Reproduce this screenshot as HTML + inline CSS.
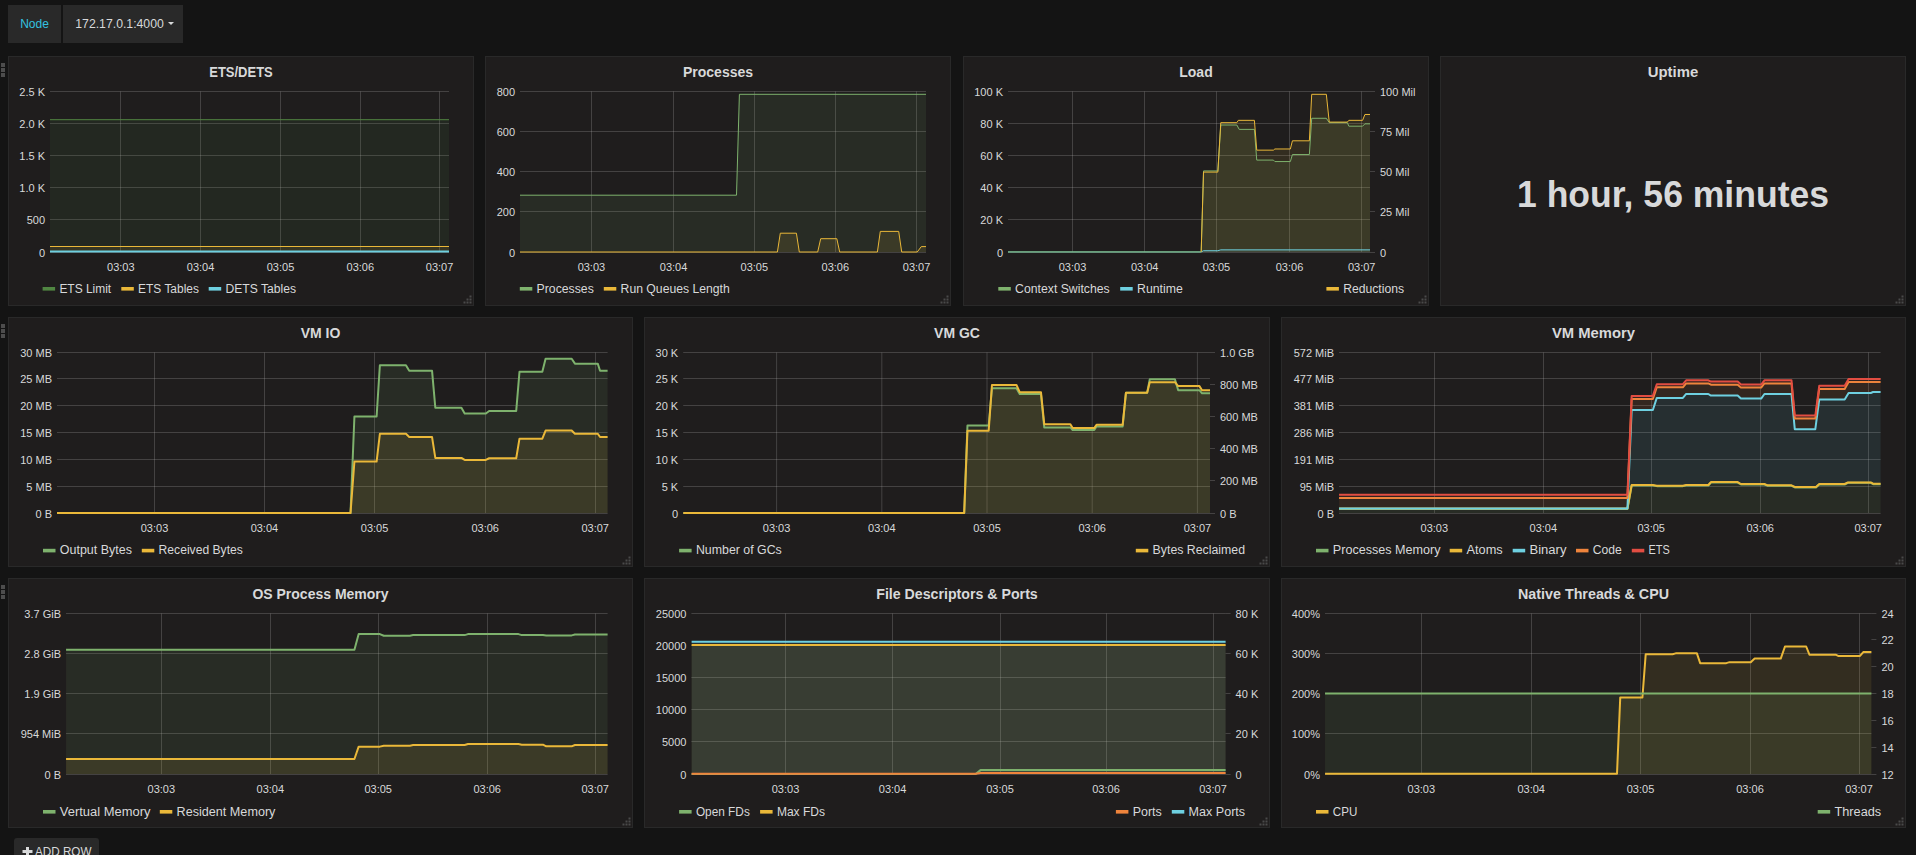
<!DOCTYPE html>
<html><head><meta charset="utf-8"><title>Grafana</title>
<style>
html,body{margin:0;padding:0;background:#141414;width:1916px;height:855px;overflow:hidden;font-family:"Liberation Sans",sans-serif}
</style></head><body>
<svg width="1916" height="855" viewBox="0 0 1916 855" style="position:absolute;left:0;top:0">
<style>
text{font-family:"Liberation Sans",sans-serif;fill:#d8d9da}
.t{font-size:14px;font-weight:bold}
.a{font-size:11px}
.l{font-size:12px}
</style>
<rect x="8" y="5" width="53" height="38" fill="#292929"/>
<text x="34.5" y="28" text-anchor="middle" style="font-size:12px;fill:#33c2e0">Node</text>
<rect x="63" y="5" width="120" height="38" fill="#292929"/>
<text x="75.3" y="28" style="font-size:12px" textLength="88.5" lengthAdjust="spacingAndGlyphs">172.17.0.1:4000</text>
<path d="M168,22 L174,22 L171,25 Z" fill="#d8d9da"/>
<rect x="1" y="63" width="4" height="4" fill="#4d4d4d"/>
<rect x="1" y="68" width="4" height="4" fill="#4d4d4d"/>
<rect x="1" y="73" width="4" height="4" fill="#4d4d4d"/>
<rect x="1" y="324" width="4" height="4" fill="#4d4d4d"/>
<rect x="1" y="329" width="4" height="4" fill="#4d4d4d"/>
<rect x="1" y="334" width="4" height="4" fill="#4d4d4d"/>
<rect x="1" y="585" width="4" height="4" fill="#4d4d4d"/>
<rect x="1" y="590" width="4" height="4" fill="#4d4d4d"/>
<rect x="1" y="595" width="4" height="4" fill="#4d4d4d"/>
<rect x="8.5" y="56.5" width="465" height="249" fill="#1f1d1d" stroke="#292929" stroke-width="1"/>
<rect x="469.5" y="295.5" width="2" height="2" fill="#4a4a4a"/>
<rect x="466.5" y="298.5" width="2" height="2" fill="#4a4a4a"/>
<rect x="469.5" y="298.5" width="2" height="2" fill="#4a4a4a"/>
<rect x="463.5" y="301.5" width="2" height="2" fill="#4a4a4a"/>
<rect x="466.5" y="301.5" width="2" height="2" fill="#4a4a4a"/>
<rect x="469.5" y="301.5" width="2" height="2" fill="#4a4a4a"/>
<text x="241.0" y="77" text-anchor="middle" class="t" textLength="63.5" lengthAdjust="spacingAndGlyphs">ETS/DETS</text>
<line x1="50" y1="91.5" x2="449" y2="91.5" stroke="rgba(200,200,200,0.22)" stroke-width="1"/>
<text x="45" y="95.5" text-anchor="end" class="a">2.5 K</text>
<line x1="50" y1="123.5" x2="449" y2="123.5" stroke="rgba(200,200,200,0.22)" stroke-width="1"/>
<text x="45" y="127.7" text-anchor="end" class="a">2.0 K</text>
<line x1="50" y1="155.5" x2="449" y2="155.5" stroke="rgba(200,200,200,0.22)" stroke-width="1"/>
<text x="45" y="159.9" text-anchor="end" class="a">1.5 K</text>
<line x1="50" y1="187.5" x2="449" y2="187.5" stroke="rgba(200,200,200,0.22)" stroke-width="1"/>
<text x="45" y="192.1" text-anchor="end" class="a">1.0 K</text>
<line x1="50" y1="219.5" x2="449" y2="219.5" stroke="rgba(200,200,200,0.22)" stroke-width="1"/>
<text x="45" y="224.3" text-anchor="end" class="a">500</text>
<line x1="50" y1="252.5" x2="449" y2="252.5" stroke="rgba(200,200,200,0.22)" stroke-width="1"/>
<text x="45" y="256.5" text-anchor="end" class="a">0</text>
<line x1="120.5" y1="91.5" x2="120.5" y2="252" stroke="rgba(200,200,200,0.22)" stroke-width="1"/>
<text x="120.8" y="271" text-anchor="middle" class="a">03:03</text>
<line x1="200.5" y1="91.5" x2="200.5" y2="252" stroke="rgba(200,200,200,0.22)" stroke-width="1"/>
<text x="200.6" y="271" text-anchor="middle" class="a">03:04</text>
<line x1="280.5" y1="91.5" x2="280.5" y2="252" stroke="rgba(200,200,200,0.22)" stroke-width="1"/>
<text x="280.5" y="271" text-anchor="middle" class="a">03:05</text>
<line x1="360.5" y1="91.5" x2="360.5" y2="252" stroke="rgba(200,200,200,0.22)" stroke-width="1"/>
<text x="360.3" y="271" text-anchor="middle" class="a">03:06</text>
<line x1="439.5" y1="91.5" x2="439.5" y2="252" stroke="rgba(200,200,200,0.22)" stroke-width="1"/>
<text x="439.6" y="271" text-anchor="middle" class="a">03:07</text>
<svg x="50" y="88.5" width="399" height="166.5" overflow="hidden"><g transform="translate(-50,-88.5)">
<path d="M50,119.7 L449,119.7 L449,252 L50,252 Z" fill="#508642" fill-opacity="0.1"/>
<path d="M50,246.5 L449,246.5 L449,252 L50,252 Z" fill="#EAB839" fill-opacity="0.1"/>
<path d="M50,251.6 L449,251.6 L449,252 L50,252 Z" fill="#6ED0E0" fill-opacity="0.1"/>
<path d="M50,119.7 L449,119.7" fill="none" stroke="#508642" stroke-width="1" stroke-linejoin="round"/>
<path d="M50,246.5 L449,246.5" fill="none" stroke="#EAB839" stroke-width="1" stroke-linejoin="round"/>
<path d="M50,251.6 L449,251.6" fill="none" stroke="#6ED0E0" stroke-width="2" stroke-linejoin="round"/>
</g></svg>
<rect x="42.6" y="287" width="12.5" height="3.6" fill="#508642"/>
<text x="59.4" y="293" class="l" textLength="51.8" lengthAdjust="spacingAndGlyphs">ETS Limit</text>
<rect x="121.3" y="287" width="12.5" height="3.6" fill="#EAB839"/>
<text x="138.1" y="293" class="l" textLength="60.8" lengthAdjust="spacingAndGlyphs">ETS Tables</text>
<rect x="208.7" y="287" width="12.5" height="3.6" fill="#6ED0E0"/>
<text x="225.5" y="293" class="l" textLength="70.6" lengthAdjust="spacingAndGlyphs">DETS Tables</text>
<rect x="485.5" y="56.5" width="465" height="249" fill="#1f1d1d" stroke="#292929" stroke-width="1"/>
<rect x="946.5" y="295.5" width="2" height="2" fill="#4a4a4a"/>
<rect x="943.5" y="298.5" width="2" height="2" fill="#4a4a4a"/>
<rect x="946.5" y="298.5" width="2" height="2" fill="#4a4a4a"/>
<rect x="940.5" y="301.5" width="2" height="2" fill="#4a4a4a"/>
<rect x="943.5" y="301.5" width="2" height="2" fill="#4a4a4a"/>
<rect x="946.5" y="301.5" width="2" height="2" fill="#4a4a4a"/>
<text x="718.0" y="77" text-anchor="middle" class="t">Processes</text>
<line x1="520" y1="91.5" x2="926" y2="91.5" stroke="rgba(200,200,200,0.22)" stroke-width="1"/>
<text x="515" y="95.5" text-anchor="end" class="a">800</text>
<line x1="520" y1="131.5" x2="926" y2="131.5" stroke="rgba(200,200,200,0.22)" stroke-width="1"/>
<text x="515" y="135.75" text-anchor="end" class="a">600</text>
<line x1="520" y1="171.5" x2="926" y2="171.5" stroke="rgba(200,200,200,0.22)" stroke-width="1"/>
<text x="515" y="176.0" text-anchor="end" class="a">400</text>
<line x1="520" y1="211.5" x2="926" y2="211.5" stroke="rgba(200,200,200,0.22)" stroke-width="1"/>
<text x="515" y="216.25" text-anchor="end" class="a">200</text>
<line x1="520" y1="252.5" x2="926" y2="252.5" stroke="rgba(200,200,200,0.22)" stroke-width="1"/>
<text x="515" y="256.5" text-anchor="end" class="a">0</text>
<line x1="591.5" y1="91.5" x2="591.5" y2="252" stroke="rgba(200,200,200,0.22)" stroke-width="1"/>
<text x="591.4" y="271" text-anchor="middle" class="a">03:03</text>
<line x1="673.5" y1="91.5" x2="673.5" y2="252" stroke="rgba(200,200,200,0.22)" stroke-width="1"/>
<text x="673.6" y="271" text-anchor="middle" class="a">03:04</text>
<line x1="754.5" y1="91.5" x2="754.5" y2="252" stroke="rgba(200,200,200,0.22)" stroke-width="1"/>
<text x="754.3" y="271" text-anchor="middle" class="a">03:05</text>
<line x1="835.5" y1="91.5" x2="835.5" y2="252" stroke="rgba(200,200,200,0.22)" stroke-width="1"/>
<text x="835.3" y="271" text-anchor="middle" class="a">03:06</text>
<line x1="916.5" y1="91.5" x2="916.5" y2="252" stroke="rgba(200,200,200,0.22)" stroke-width="1"/>
<text x="916.6" y="271" text-anchor="middle" class="a">03:07</text>
<svg x="520" y="88.5" width="406" height="166.5" overflow="hidden"><g transform="translate(-520,-88.5)">
<path d="M520,195.2 L736.5,195.2 L739.4,94.3 L926,94.3 L926,252 L520,252 Z" fill="#7EB26D" fill-opacity="0.1"/>
<path d="M520,252 L777.4,252 L780.3,233.2 L796.4,233.2 L799.3,252 L817.7,252 L820.7,238.7 L836.8,238.7 L839.7,252 L877.4,252 L880.3,231.4 L898.7,231.4 L901.7,252 L917.2,252 L921.3,246.6 L930,246.6 L930,252 L520,252 Z" fill="#EAB839" fill-opacity="0.1"/>
<path d="M520,195.2 L736.5,195.2 L739.4,94.3 L926,94.3" fill="none" stroke="#7EB26D" stroke-width="1" stroke-linejoin="round"/>
<path d="M520,252 L777.4,252 L780.3,233.2 L796.4,233.2 L799.3,252 L817.7,252 L820.7,238.7 L836.8,238.7 L839.7,252 L877.4,252 L880.3,231.4 L898.7,231.4 L901.7,252 L917.2,252 L921.3,246.6 L930,246.6" fill="none" stroke="#EAB839" stroke-width="1" stroke-linejoin="round"/>
</g></svg>
<rect x="519.8" y="287" width="12.5" height="3.6" fill="#7EB26D"/>
<text x="536.6" y="293" class="l" textLength="57.2" lengthAdjust="spacingAndGlyphs">Processes</text>
<rect x="603.8" y="287" width="12.5" height="3.6" fill="#EAB839"/>
<text x="620.6" y="293" class="l" textLength="109.2" lengthAdjust="spacingAndGlyphs">Run Queues Length</text>
<rect x="963.5" y="56.5" width="465" height="249" fill="#1f1d1d" stroke="#292929" stroke-width="1"/>
<rect x="1424.5" y="295.5" width="2" height="2" fill="#4a4a4a"/>
<rect x="1421.5" y="298.5" width="2" height="2" fill="#4a4a4a"/>
<rect x="1424.5" y="298.5" width="2" height="2" fill="#4a4a4a"/>
<rect x="1418.5" y="301.5" width="2" height="2" fill="#4a4a4a"/>
<rect x="1421.5" y="301.5" width="2" height="2" fill="#4a4a4a"/>
<rect x="1424.5" y="301.5" width="2" height="2" fill="#4a4a4a"/>
<text x="1196.0" y="77" text-anchor="middle" class="t">Load</text>
<line x1="1008" y1="91.5" x2="1370" y2="91.5" stroke="rgba(200,200,200,0.22)" stroke-width="1"/>
<text x="1003" y="95.5" text-anchor="end" class="a">100 K</text>
<line x1="1008" y1="123.5" x2="1370" y2="123.5" stroke="rgba(200,200,200,0.22)" stroke-width="1"/>
<text x="1003" y="127.7" text-anchor="end" class="a">80 K</text>
<line x1="1008" y1="155.5" x2="1370" y2="155.5" stroke="rgba(200,200,200,0.22)" stroke-width="1"/>
<text x="1003" y="159.9" text-anchor="end" class="a">60 K</text>
<line x1="1008" y1="187.5" x2="1370" y2="187.5" stroke="rgba(200,200,200,0.22)" stroke-width="1"/>
<text x="1003" y="192.1" text-anchor="end" class="a">40 K</text>
<line x1="1008" y1="219.5" x2="1370" y2="219.5" stroke="rgba(200,200,200,0.22)" stroke-width="1"/>
<text x="1003" y="224.3" text-anchor="end" class="a">20 K</text>
<line x1="1008" y1="252.5" x2="1370" y2="252.5" stroke="rgba(200,200,200,0.22)" stroke-width="1"/>
<text x="1003" y="256.5" text-anchor="end" class="a">0</text>
<line x1="1370" y1="91.5" x2="1375" y2="91.5" stroke="rgba(200,200,200,0.22)" stroke-width="1"/>
<text x="1380" y="95.5" text-anchor="start" class="a">100 Mil</text>
<line x1="1370" y1="131.5" x2="1375" y2="131.5" stroke="rgba(200,200,200,0.22)" stroke-width="1"/>
<text x="1380" y="135.75" text-anchor="start" class="a">75 Mil</text>
<line x1="1370" y1="171.5" x2="1375" y2="171.5" stroke="rgba(200,200,200,0.22)" stroke-width="1"/>
<text x="1380" y="176.0" text-anchor="start" class="a">50 Mil</text>
<line x1="1370" y1="211.5" x2="1375" y2="211.5" stroke="rgba(200,200,200,0.22)" stroke-width="1"/>
<text x="1380" y="216.25" text-anchor="start" class="a">25 Mil</text>
<line x1="1370" y1="252.5" x2="1375" y2="252.5" stroke="rgba(200,200,200,0.22)" stroke-width="1"/>
<text x="1380" y="256.5" text-anchor="start" class="a">0</text>
<line x1="1072.5" y1="91.5" x2="1072.5" y2="252" stroke="rgba(200,200,200,0.22)" stroke-width="1"/>
<text x="1072.5" y="271" text-anchor="middle" class="a">03:03</text>
<line x1="1144.5" y1="91.5" x2="1144.5" y2="252" stroke="rgba(200,200,200,0.22)" stroke-width="1"/>
<text x="1144.7" y="271" text-anchor="middle" class="a">03:04</text>
<line x1="1216.5" y1="91.5" x2="1216.5" y2="252" stroke="rgba(200,200,200,0.22)" stroke-width="1"/>
<text x="1216.4" y="271" text-anchor="middle" class="a">03:05</text>
<line x1="1289.5" y1="91.5" x2="1289.5" y2="252" stroke="rgba(200,200,200,0.22)" stroke-width="1"/>
<text x="1289.5" y="271" text-anchor="middle" class="a">03:06</text>
<line x1="1361.5" y1="91.5" x2="1361.5" y2="252" stroke="rgba(200,200,200,0.22)" stroke-width="1"/>
<text x="1361.7" y="271" text-anchor="middle" class="a">03:07</text>
<svg x="1008" y="88.5" width="362" height="166.5" overflow="hidden"><g transform="translate(-1008,-88.5)">
<path d="M1007.91,251.91 L1201.18,251.91 L1203.52,250.74 L1217.85,250.74 L1220.77,249.86 L1371.36,249.86 L1371.36,252 L1007.91,252 Z" fill="#6ED0E0" fill-opacity="0.1"/>
<path d="M1007.91,251.91 L1201.18,251.91 L1203.52,170.91 L1217.85,170.91 L1220.77,125.01 L1236.85,125.01 L1239.19,129.39 L1254.4,129.39 L1256.74,160.09 L1273.4,160.09 L1274.87,161.56 L1290.36,161.56 L1292.41,154.54 L1309.37,154.54 L1311.71,118.28 L1326.33,118.28 L1329.25,122.67 L1347.38,122.67 L1348.84,126.18 L1362.58,126.18 L1364.92,123.84 L1371.36,123.84 L1371.36,252 L1007.91,252 Z" fill="#7EB26D" fill-opacity="0.1"/>
<path d="M1201.18,251.91 L1203.52,172.08 L1217.85,172.08 L1220.77,122.67 L1236.85,122.67 L1238.32,120.33 L1254.4,120.33 L1256.74,150.15 L1273.4,150.15 L1274.87,148.98 L1290.36,148.98 L1292.41,140.8 L1309.37,140.8 L1311.71,94.3 L1326.33,94.3 L1329.25,122.08 L1347.38,122.08 L1348.84,120.33 L1362.58,120.33 L1364.92,114.48 L1371.36,114.48 L1371.36,252 L1201.18,252 Z" fill="#EAB839" fill-opacity="0.1"/>
<path d="M1007.91,251.91 L1201.18,251.91 L1203.52,250.74 L1217.85,250.74 L1220.77,249.86 L1371.36,249.86" fill="none" stroke="#6ED0E0" stroke-width="1" stroke-linejoin="round"/>
<path d="M1007.91,251.91 L1201.18,251.91 L1203.52,170.91 L1217.85,170.91 L1220.77,125.01 L1236.85,125.01 L1239.19,129.39 L1254.4,129.39 L1256.74,160.09 L1273.4,160.09 L1274.87,161.56 L1290.36,161.56 L1292.41,154.54 L1309.37,154.54 L1311.71,118.28 L1326.33,118.28 L1329.25,122.67 L1347.38,122.67 L1348.84,126.18 L1362.58,126.18 L1364.92,123.84 L1371.36,123.84" fill="none" stroke="#7EB26D" stroke-width="1" stroke-linejoin="round"/>
<path d="M1201.18,251.91 L1203.52,172.08 L1217.85,172.08 L1220.77,122.67 L1236.85,122.67 L1238.32,120.33 L1254.4,120.33 L1256.74,150.15 L1273.4,150.15 L1274.87,148.98 L1290.36,148.98 L1292.41,140.8 L1309.37,140.8 L1311.71,94.3 L1326.33,94.3 L1329.25,122.08 L1347.38,122.08 L1348.84,120.33 L1362.58,120.33 L1364.92,114.48 L1371.36,114.48" fill="none" stroke="#EAB839" stroke-width="1" stroke-linejoin="round"/>
</g></svg>
<rect x="998.3" y="287" width="12.5" height="3.6" fill="#7EB26D"/>
<text x="1015.1" y="293" class="l" textLength="94.6" lengthAdjust="spacingAndGlyphs">Context Switches</text>
<rect x="1120.2" y="287" width="12.5" height="3.6" fill="#6ED0E0"/>
<text x="1137" y="293" class="l" textLength="45.8" lengthAdjust="spacingAndGlyphs">Runtime</text>
<rect x="1326.4" y="287" width="12.5" height="3.6" fill="#EAB839"/>
<text x="1343.2" y="293" class="l" textLength="60.9" lengthAdjust="spacingAndGlyphs">Reductions</text>
<rect x="8.5" y="317.5" width="624" height="249" fill="#1f1d1d" stroke="#292929" stroke-width="1"/>
<rect x="628.5" y="556.5" width="2" height="2" fill="#4a4a4a"/>
<rect x="625.5" y="559.5" width="2" height="2" fill="#4a4a4a"/>
<rect x="628.5" y="559.5" width="2" height="2" fill="#4a4a4a"/>
<rect x="622.5" y="562.5" width="2" height="2" fill="#4a4a4a"/>
<rect x="625.5" y="562.5" width="2" height="2" fill="#4a4a4a"/>
<rect x="628.5" y="562.5" width="2" height="2" fill="#4a4a4a"/>
<text x="320.5" y="338" text-anchor="middle" class="t">VM IO</text>
<line x1="57" y1="352.5" x2="607.6" y2="352.5" stroke="rgba(200,200,200,0.22)" stroke-width="1"/>
<text x="52" y="356.5" text-anchor="end" class="a">30 MB</text>
<line x1="57" y1="378.5" x2="607.6" y2="378.5" stroke="rgba(200,200,200,0.22)" stroke-width="1"/>
<text x="52" y="383.3333333333333" text-anchor="end" class="a">25 MB</text>
<line x1="57" y1="405.5" x2="607.6" y2="405.5" stroke="rgba(200,200,200,0.22)" stroke-width="1"/>
<text x="52" y="410.1666666666667" text-anchor="end" class="a">20 MB</text>
<line x1="57" y1="432.5" x2="607.6" y2="432.5" stroke="rgba(200,200,200,0.22)" stroke-width="1"/>
<text x="52" y="437.0" text-anchor="end" class="a">15 MB</text>
<line x1="57" y1="459.5" x2="607.6" y2="459.5" stroke="rgba(200,200,200,0.22)" stroke-width="1"/>
<text x="52" y="463.8333333333333" text-anchor="end" class="a">10 MB</text>
<line x1="57" y1="486.5" x2="607.6" y2="486.5" stroke="rgba(200,200,200,0.22)" stroke-width="1"/>
<text x="52" y="490.66666666666663" text-anchor="end" class="a">5 MB</text>
<line x1="57" y1="513.5" x2="607.6" y2="513.5" stroke="rgba(200,200,200,0.22)" stroke-width="1"/>
<text x="52" y="517.5" text-anchor="end" class="a">0 B</text>
<line x1="154.5" y1="352.5" x2="154.5" y2="513" stroke="rgba(200,200,200,0.22)" stroke-width="1"/>
<text x="154.5" y="532" text-anchor="middle" class="a">03:03</text>
<line x1="264.5" y1="352.5" x2="264.5" y2="513" stroke="rgba(200,200,200,0.22)" stroke-width="1"/>
<text x="264.4" y="532" text-anchor="middle" class="a">03:04</text>
<line x1="374.5" y1="352.5" x2="374.5" y2="513" stroke="rgba(200,200,200,0.22)" stroke-width="1"/>
<text x="374.6" y="532" text-anchor="middle" class="a">03:05</text>
<line x1="485.5" y1="352.5" x2="485.5" y2="513" stroke="rgba(200,200,200,0.22)" stroke-width="1"/>
<text x="485.2" y="532" text-anchor="middle" class="a">03:06</text>
<line x1="595.5" y1="352.5" x2="595.5" y2="513" stroke="rgba(200,200,200,0.22)" stroke-width="1"/>
<text x="595.2" y="532" text-anchor="middle" class="a">03:07</text>
<svg x="57" y="349.5" width="550.6" height="166.5" overflow="hidden"><g transform="translate(-57,-349.5)">
<path d="M56.93,513.05 L350.51,513.05 L354.42,416.49 L376.61,416.49 L379.87,365.28 L405.96,365.28 L409.23,370.82 L432.06,370.82 L435.32,407.68 L461.42,407.68 L464.68,413.56 L485.88,413.56 L489.15,410.95 L516.22,410.95 L519.48,371.8 L542.32,371.8 L545.58,358.75 L571.67,358.75 L574.94,363.65 L597.77,363.65 L600.05,370.82 L609.84,370.82 L609.84,513 L56.93,513 Z" fill="#7EB26D" fill-opacity="0.1"/>
<path d="M56.93,513.05 L350.51,513.05 L354.42,461.51 L376.61,461.51 L379.87,433.78 L405.96,433.78 L409.23,437.04 L432.06,437.04 L435.32,457.92 L461.42,457.92 L464.68,459.88 L485.88,459.88 L489.15,458.24 L516.22,458.24 L519.48,438.67 L542.32,438.67 L545.58,430.52 L571.67,430.52 L574.94,433.78 L597.77,433.78 L600.05,437.04 L609.84,437.04 L609.84,513 L56.93,513 Z" fill="#EAB839" fill-opacity="0.1"/>
<path d="M56.93,513.05 L350.51,513.05 L354.42,416.49 L376.61,416.49 L379.87,365.28 L405.96,365.28 L409.23,370.82 L432.06,370.82 L435.32,407.68 L461.42,407.68 L464.68,413.56 L485.88,413.56 L489.15,410.95 L516.22,410.95 L519.48,371.8 L542.32,371.8 L545.58,358.75 L571.67,358.75 L574.94,363.65 L597.77,363.65 L600.05,370.82 L609.84,370.82" fill="none" stroke="#7EB26D" stroke-width="2" stroke-linejoin="round"/>
<path d="M56.93,513.05 L350.51,513.05 L354.42,461.51 L376.61,461.51 L379.87,433.78 L405.96,433.78 L409.23,437.04 L432.06,437.04 L435.32,457.92 L461.42,457.92 L464.68,459.88 L485.88,459.88 L489.15,458.24 L516.22,458.24 L519.48,438.67 L542.32,438.67 L545.58,430.52 L571.67,430.52 L574.94,433.78 L597.77,433.78 L600.05,437.04 L609.84,437.04" fill="none" stroke="#EAB839" stroke-width="2" stroke-linejoin="round"/>
</g></svg>
<rect x="43" y="548.8" width="12.5" height="3.6" fill="#7EB26D"/>
<text x="59.8" y="554" class="l" textLength="72.1" lengthAdjust="spacingAndGlyphs">Output Bytes</text>
<rect x="141.8" y="548.8" width="12.5" height="3.6" fill="#EAB839"/>
<text x="158.6" y="554" class="l" textLength="84.2" lengthAdjust="spacingAndGlyphs">Received Bytes</text>
<rect x="644.5" y="317.5" width="625" height="249" fill="#1f1d1d" stroke="#292929" stroke-width="1"/>
<rect x="1265.5" y="556.5" width="2" height="2" fill="#4a4a4a"/>
<rect x="1262.5" y="559.5" width="2" height="2" fill="#4a4a4a"/>
<rect x="1265.5" y="559.5" width="2" height="2" fill="#4a4a4a"/>
<rect x="1259.5" y="562.5" width="2" height="2" fill="#4a4a4a"/>
<rect x="1262.5" y="562.5" width="2" height="2" fill="#4a4a4a"/>
<rect x="1265.5" y="562.5" width="2" height="2" fill="#4a4a4a"/>
<text x="957.0" y="338" text-anchor="middle" class="t">VM GC</text>
<line x1="683.2" y1="352.5" x2="1210" y2="352.5" stroke="rgba(200,200,200,0.22)" stroke-width="1"/>
<text x="678.2" y="356.5" text-anchor="end" class="a">30 K</text>
<line x1="683.2" y1="378.5" x2="1210" y2="378.5" stroke="rgba(200,200,200,0.22)" stroke-width="1"/>
<text x="678.2" y="383.3333333333333" text-anchor="end" class="a">25 K</text>
<line x1="683.2" y1="405.5" x2="1210" y2="405.5" stroke="rgba(200,200,200,0.22)" stroke-width="1"/>
<text x="678.2" y="410.1666666666667" text-anchor="end" class="a">20 K</text>
<line x1="683.2" y1="432.5" x2="1210" y2="432.5" stroke="rgba(200,200,200,0.22)" stroke-width="1"/>
<text x="678.2" y="437.0" text-anchor="end" class="a">15 K</text>
<line x1="683.2" y1="459.5" x2="1210" y2="459.5" stroke="rgba(200,200,200,0.22)" stroke-width="1"/>
<text x="678.2" y="463.8333333333333" text-anchor="end" class="a">10 K</text>
<line x1="683.2" y1="486.5" x2="1210" y2="486.5" stroke="rgba(200,200,200,0.22)" stroke-width="1"/>
<text x="678.2" y="490.66666666666663" text-anchor="end" class="a">5 K</text>
<line x1="683.2" y1="513.5" x2="1210" y2="513.5" stroke="rgba(200,200,200,0.22)" stroke-width="1"/>
<text x="678.2" y="517.5" text-anchor="end" class="a">0</text>
<line x1="1210" y1="352.5" x2="1215" y2="352.5" stroke="rgba(200,200,200,0.22)" stroke-width="1"/>
<text x="1220" y="356.5" text-anchor="start" class="a">1.0 GB</text>
<line x1="1210" y1="384.5" x2="1215" y2="384.5" stroke="rgba(200,200,200,0.22)" stroke-width="1"/>
<text x="1220" y="388.7" text-anchor="start" class="a">800 MB</text>
<line x1="1210" y1="416.5" x2="1215" y2="416.5" stroke="rgba(200,200,200,0.22)" stroke-width="1"/>
<text x="1220" y="420.9" text-anchor="start" class="a">600 MB</text>
<line x1="1210" y1="448.5" x2="1215" y2="448.5" stroke="rgba(200,200,200,0.22)" stroke-width="1"/>
<text x="1220" y="453.1" text-anchor="start" class="a">400 MB</text>
<line x1="1210" y1="480.5" x2="1215" y2="480.5" stroke="rgba(200,200,200,0.22)" stroke-width="1"/>
<text x="1220" y="485.3" text-anchor="start" class="a">200 MB</text>
<line x1="1210" y1="513.5" x2="1215" y2="513.5" stroke="rgba(200,200,200,0.22)" stroke-width="1"/>
<text x="1220" y="517.5" text-anchor="start" class="a">0 B</text>
<line x1="776.6" y1="352.5" x2="776.6" y2="513" stroke="rgba(200,200,200,0.22)" stroke-width="1"/>
<text x="776.6" y="532" text-anchor="middle" class="a">03:03</text>
<line x1="881.8" y1="352.5" x2="881.8" y2="513" stroke="rgba(200,200,200,0.22)" stroke-width="1"/>
<text x="881.8" y="532" text-anchor="middle" class="a">03:04</text>
<line x1="987.0" y1="352.5" x2="987.0" y2="513" stroke="rgba(200,200,200,0.22)" stroke-width="1"/>
<text x="987.0" y="532" text-anchor="middle" class="a">03:05</text>
<line x1="1092.2" y1="352.5" x2="1092.2" y2="513" stroke="rgba(200,200,200,0.22)" stroke-width="1"/>
<text x="1092.2" y="532" text-anchor="middle" class="a">03:06</text>
<line x1="1197.4" y1="352.5" x2="1197.4" y2="513" stroke="rgba(200,200,200,0.22)" stroke-width="1"/>
<text x="1197.4" y="532" text-anchor="middle" class="a">03:07</text>
<svg x="683.2" y="349.5" width="526.8" height="166.5" overflow="hidden"><g transform="translate(-683.2,-349.5)">
<path d="M683.21,513.03 L964.19,513.03 L967.46,425.47 L988.69,425.47 L991.96,388.23 L1016.46,388.23 L1019.73,394.11 L1040.97,394.11 L1044.24,427.43 L1070.37,427.43 L1072.66,430.05 L1094.22,430.05 L1096.51,426.45 L1122.65,426.45 L1125.92,392.8 L1147.15,392.8 L1149.77,379.24 L1174.92,379.24 L1178.19,390.19 L1199.43,390.19 L1202.04,393.29 L1212.5,393.29 L1212.5,513 L683.21,513 Z" fill="#7EB26D" fill-opacity="0.1"/>
<path d="M683.21,513.03 L964.19,513.03 L967.46,430.7 L988.69,430.7 L991.96,384.96 L1016.46,384.96 L1019.73,392.15 L1040.97,392.15 L1044.24,424.17 L1070.37,424.17 L1072.66,428.09 L1094.22,428.09 L1096.51,424.82 L1122.65,424.82 L1125.92,392.8 L1147.15,392.8 L1149.77,382.18 L1174.92,382.18 L1178.19,386.1 L1199.43,386.1 L1202.04,390.19 L1212.5,390.19 L1212.5,513 L683.21,513 Z" fill="#EAB839" fill-opacity="0.1"/>
<path d="M683.21,513.03 L964.19,513.03 L967.46,425.47 L988.69,425.47 L991.96,388.23 L1016.46,388.23 L1019.73,394.11 L1040.97,394.11 L1044.24,427.43 L1070.37,427.43 L1072.66,430.05 L1094.22,430.05 L1096.51,426.45 L1122.65,426.45 L1125.92,392.8 L1147.15,392.8 L1149.77,379.24 L1174.92,379.24 L1178.19,390.19 L1199.43,390.19 L1202.04,393.29 L1212.5,393.29" fill="none" stroke="#7EB26D" stroke-width="2" stroke-linejoin="round"/>
<path d="M683.21,513.03 L964.19,513.03 L967.46,430.7 L988.69,430.7 L991.96,384.96 L1016.46,384.96 L1019.73,392.15 L1040.97,392.15 L1044.24,424.17 L1070.37,424.17 L1072.66,428.09 L1094.22,428.09 L1096.51,424.82 L1122.65,424.82 L1125.92,392.8 L1147.15,392.8 L1149.77,382.18 L1174.92,382.18 L1178.19,386.1 L1199.43,386.1 L1202.04,390.19 L1212.5,390.19" fill="none" stroke="#EAB839" stroke-width="2" stroke-linejoin="round"/>
</g></svg>
<rect x="679.1" y="548.8" width="12.5" height="3.6" fill="#7EB26D"/>
<text x="695.9" y="554" class="l" textLength="85.9" lengthAdjust="spacingAndGlyphs">Number of GCs</text>
<rect x="1135.8" y="548.8" width="12.5" height="3.6" fill="#EAB839"/>
<text x="1152.6" y="554" class="l" textLength="92.5" lengthAdjust="spacingAndGlyphs">Bytes Reclaimed</text>
<rect x="1281.5" y="317.5" width="624" height="249" fill="#1f1d1d" stroke="#292929" stroke-width="1"/>
<rect x="1901.5" y="556.5" width="2" height="2" fill="#4a4a4a"/>
<rect x="1898.5" y="559.5" width="2" height="2" fill="#4a4a4a"/>
<rect x="1901.5" y="559.5" width="2" height="2" fill="#4a4a4a"/>
<rect x="1895.5" y="562.5" width="2" height="2" fill="#4a4a4a"/>
<rect x="1898.5" y="562.5" width="2" height="2" fill="#4a4a4a"/>
<rect x="1901.5" y="562.5" width="2" height="2" fill="#4a4a4a"/>
<text x="1593.5" y="338" text-anchor="middle" class="t" textLength="83" lengthAdjust="spacingAndGlyphs">VM Memory</text>
<line x1="1339" y1="352.5" x2="1880.6" y2="352.5" stroke="rgba(200,200,200,0.22)" stroke-width="1"/>
<text x="1334" y="356.5" text-anchor="end" class="a">572 MiB</text>
<line x1="1339" y1="378.5" x2="1880.6" y2="378.5" stroke="rgba(200,200,200,0.22)" stroke-width="1"/>
<text x="1334" y="383.3333333333333" text-anchor="end" class="a">477 MiB</text>
<line x1="1339" y1="405.5" x2="1880.6" y2="405.5" stroke="rgba(200,200,200,0.22)" stroke-width="1"/>
<text x="1334" y="410.1666666666667" text-anchor="end" class="a">381 MiB</text>
<line x1="1339" y1="432.5" x2="1880.6" y2="432.5" stroke="rgba(200,200,200,0.22)" stroke-width="1"/>
<text x="1334" y="437.0" text-anchor="end" class="a">286 MiB</text>
<line x1="1339" y1="459.5" x2="1880.6" y2="459.5" stroke="rgba(200,200,200,0.22)" stroke-width="1"/>
<text x="1334" y="463.8333333333333" text-anchor="end" class="a">191 MiB</text>
<line x1="1339" y1="486.5" x2="1880.6" y2="486.5" stroke="rgba(200,200,200,0.22)" stroke-width="1"/>
<text x="1334" y="490.66666666666663" text-anchor="end" class="a">95 MiB</text>
<line x1="1339" y1="513.5" x2="1880.6" y2="513.5" stroke="rgba(200,200,200,0.22)" stroke-width="1"/>
<text x="1334" y="517.5" text-anchor="end" class="a">0 B</text>
<line x1="1434.5" y1="352.5" x2="1434.5" y2="513" stroke="rgba(200,200,200,0.22)" stroke-width="1"/>
<text x="1434.3" y="532" text-anchor="middle" class="a">03:03</text>
<line x1="1543.5" y1="352.5" x2="1543.5" y2="513" stroke="rgba(200,200,200,0.22)" stroke-width="1"/>
<text x="1543.3" y="532" text-anchor="middle" class="a">03:04</text>
<line x1="1651.5" y1="352.5" x2="1651.5" y2="513" stroke="rgba(200,200,200,0.22)" stroke-width="1"/>
<text x="1651.2" y="532" text-anchor="middle" class="a">03:05</text>
<line x1="1760.5" y1="352.5" x2="1760.5" y2="513" stroke="rgba(200,200,200,0.22)" stroke-width="1"/>
<text x="1760.2" y="532" text-anchor="middle" class="a">03:06</text>
<line x1="1868.5" y1="352.5" x2="1868.5" y2="513" stroke="rgba(200,200,200,0.22)" stroke-width="1"/>
<text x="1868.2" y="532" text-anchor="middle" class="a">03:07</text>
<svg x="1339" y="349.5" width="541.5999999999999" height="166.5" overflow="hidden"><g transform="translate(-1339,-349.5)">
<path d="M1339.06,508.97 L1627.42,508.97 L1631.67,485.48 L1652.87,485.48 L1656.78,486.13 L1682.88,486.13 L1686.14,485.48 L1708.32,485.48 L1710.93,482.55 L1737.68,482.55 L1740.94,484.5 L1764.43,484.5 L1767.69,485.81 L1791.5,485.81 L1794.77,487.44 L1815.97,487.44 L1819.23,484.5 L1844.67,484.5 L1847.94,482.87 L1870.77,482.87 L1873.05,484.18 L1882.84,484.18 L1890,513 L1339,513 Z" fill="#7EB26D" fill-opacity="0.1"/>
<path d="M1339.06,508.48 L1627.42,508.48 L1631.67,484.99 L1652.87,484.99 L1656.78,485.65 L1682.88,485.65 L1686.14,484.99 L1708.32,484.99 L1710.93,482.06 L1737.68,482.06 L1740.94,484.01 L1764.43,484.01 L1767.69,485.32 L1791.5,485.32 L1794.77,486.95 L1815.97,486.95 L1819.23,484.01 L1844.67,484.01 L1847.94,482.38 L1870.77,482.38 L1873.05,483.69 L1882.84,483.69 L1882.84,484.18 L1873.05,484.18 L1870.77,482.87 L1847.94,482.87 L1844.67,484.5 L1819.23,484.5 L1815.97,487.44 L1794.77,487.44 L1791.5,485.81 L1767.69,485.81 L1764.43,484.5 L1740.94,484.5 L1737.68,482.55 L1710.93,482.55 L1708.32,485.48 L1686.14,485.48 L1682.88,486.13 L1656.78,486.13 L1652.87,485.48 L1631.67,485.48 L1627.42,508.97 L1339.06,508.97 Z" fill="#EAB839" fill-opacity="0.1"/>
<path d="M1339.06,508.48 L1627.42,508.48 L1631.67,409.97 L1652.87,409.97 L1656.78,397.9 L1682.88,397.9 L1686.14,393.98 L1708.32,393.98 L1710.93,395.61 L1737.68,395.61 L1740.94,398.55 L1761.17,398.55 L1764.43,393.98 L1791.5,393.98 L1794.77,429.21 L1815.32,429.21 L1819.23,399.53 L1844.67,399.53 L1848.59,393 L1870.77,393 L1873.05,392.03 L1882.84,392.03 L1882.84,483.69 L1873.05,483.69 L1870.77,482.38 L1847.94,482.38 L1844.67,484.01 L1819.23,484.01 L1815.97,486.95 L1794.77,486.95 L1791.5,485.32 L1767.69,485.32 L1764.43,484.01 L1740.94,484.01 L1737.68,482.06 L1710.93,482.06 L1708.32,484.99 L1686.14,484.99 L1682.88,485.65 L1656.78,485.65 L1652.87,484.99 L1631.67,484.99 L1627.42,508.48 L1339.06,508.48 Z" fill="#6ED0E0" fill-opacity="0.1"/>
<path d="M1339.06,497.88 L1627.42,497.88 L1631.67,399.04 L1652.87,399.04 L1656.78,387.3 L1682.88,387.3 L1686.14,383.38 L1708.32,383.38 L1710.93,384.69 L1737.68,384.69 L1740.94,387.62 L1761.17,387.62 L1764.43,383.38 L1791.5,383.38 L1794.77,418.61 L1815.32,418.61 L1819.23,388.93 L1844.67,388.93 L1848.59,382.08 L1882.84,382.08 L1882.84,392.03 L1873.05,392.03 L1870.77,393 L1848.59,393 L1844.67,399.53 L1819.23,399.53 L1815.32,429.21 L1794.77,429.21 L1791.5,393.98 L1764.43,393.98 L1761.17,398.55 L1740.94,398.55 L1737.68,395.61 L1710.93,395.61 L1708.32,393.98 L1686.14,393.98 L1682.88,397.9 L1656.78,397.9 L1652.87,409.97 L1631.67,409.97 L1627.42,508.48 L1339.06,508.48 Z" fill="#EF843C" fill-opacity="0.1"/>
<path d="M1339.06,494.78 L1627.42,494.78 L1631.67,395.94 L1652.87,395.94 L1656.78,384.2 L1682.88,384.2 L1686.14,380.28 L1708.32,380.28 L1710.93,381.59 L1737.68,381.59 L1740.94,384.52 L1761.17,384.52 L1764.43,380.28 L1791.5,380.28 L1794.77,415.51 L1815.32,415.51 L1819.23,385.83 L1844.67,385.83 L1848.59,378.98 L1882.84,378.98 L1882.84,382.08 L1848.59,382.08 L1844.67,388.93 L1819.23,388.93 L1815.32,418.61 L1794.77,418.61 L1791.5,383.38 L1764.43,383.38 L1761.17,387.62 L1740.94,387.62 L1737.68,384.69 L1710.93,384.69 L1708.32,383.38 L1686.14,383.38 L1682.88,387.3 L1656.78,387.3 L1652.87,399.04 L1631.67,399.04 L1627.42,497.88 L1339.06,497.88 Z" fill="#E24D42" fill-opacity="0.1"/>
<path d="M1339.06,508.97 L1627.42,508.97 L1631.67,485.48 L1652.87,485.48 L1656.78,486.13 L1682.88,486.13 L1686.14,485.48 L1708.32,485.48 L1710.93,482.55 L1737.68,482.55 L1740.94,484.5 L1764.43,484.5 L1767.69,485.81 L1791.5,485.81 L1794.77,487.44 L1815.97,487.44 L1819.23,484.5 L1844.67,484.5 L1847.94,482.87 L1870.77,482.87 L1873.05,484.18 L1882.84,484.18" fill="none" stroke="#7EB26D" stroke-width="2" stroke-linejoin="round"/>
<path d="M1339.06,508.48 L1627.42,508.48 L1631.67,484.99 L1652.87,484.99 L1656.78,485.65 L1682.88,485.65 L1686.14,484.99 L1708.32,484.99 L1710.93,482.06 L1737.68,482.06 L1740.94,484.01 L1764.43,484.01 L1767.69,485.32 L1791.5,485.32 L1794.77,486.95 L1815.97,486.95 L1819.23,484.01 L1844.67,484.01 L1847.94,482.38 L1870.77,482.38 L1873.05,483.69 L1882.84,483.69" fill="none" stroke="#EAB839" stroke-width="2" stroke-linejoin="round"/>
<path d="M1339.06,508.48 L1627.42,508.48 L1631.67,409.97 L1652.87,409.97 L1656.78,397.9 L1682.88,397.9 L1686.14,393.98 L1708.32,393.98 L1710.93,395.61 L1737.68,395.61 L1740.94,398.55 L1761.17,398.55 L1764.43,393.98 L1791.5,393.98 L1794.77,429.21 L1815.32,429.21 L1819.23,399.53 L1844.67,399.53 L1848.59,393 L1870.77,393 L1873.05,392.03 L1882.84,392.03" fill="none" stroke="#6ED0E0" stroke-width="2" stroke-linejoin="round"/>
<path d="M1339.06,497.88 L1627.42,497.88 L1631.67,399.04 L1652.87,399.04 L1656.78,387.3 L1682.88,387.3 L1686.14,383.38 L1708.32,383.38 L1710.93,384.69 L1737.68,384.69 L1740.94,387.62 L1761.17,387.62 L1764.43,383.38 L1791.5,383.38 L1794.77,418.61 L1815.32,418.61 L1819.23,388.93 L1844.67,388.93 L1848.59,382.08 L1882.84,382.08" fill="none" stroke="#EF843C" stroke-width="2" stroke-linejoin="round"/>
<path d="M1339.06,494.78 L1627.42,494.78 L1631.67,395.94 L1652.87,395.94 L1656.78,384.2 L1682.88,384.2 L1686.14,380.28 L1708.32,380.28 L1710.93,381.59 L1737.68,381.59 L1740.94,384.52 L1761.17,384.52 L1764.43,380.28 L1791.5,380.28 L1794.77,415.51 L1815.32,415.51 L1819.23,385.83 L1844.67,385.83 L1848.59,378.98 L1882.84,378.98" fill="none" stroke="#E24D42" stroke-width="2" stroke-linejoin="round"/>
</g></svg>
<rect x="1316" y="548.8" width="12.5" height="3.6" fill="#7EB26D"/>
<text x="1332.8" y="554" class="l" textLength="107.7" lengthAdjust="spacingAndGlyphs">Processes Memory</text>
<rect x="1449.7" y="548.8" width="12.5" height="3.6" fill="#EAB839"/>
<text x="1466.5" y="554" class="l" textLength="36.2" lengthAdjust="spacingAndGlyphs">Atoms</text>
<rect x="1512.7" y="548.8" width="12.5" height="3.6" fill="#6ED0E0"/>
<text x="1529.5" y="554" class="l" textLength="36.9" lengthAdjust="spacingAndGlyphs">Binary</text>
<rect x="1576" y="548.8" width="12.5" height="3.6" fill="#EF843C"/>
<text x="1592.8" y="554" class="l" textLength="29" lengthAdjust="spacingAndGlyphs">Code</text>
<rect x="1631.8" y="548.8" width="12.5" height="3.6" fill="#E24D42"/>
<text x="1648.6" y="554" class="l" textLength="21.2" lengthAdjust="spacingAndGlyphs">ETS</text>
<rect x="8.5" y="578.5" width="624" height="249" fill="#1f1d1d" stroke="#292929" stroke-width="1"/>
<rect x="628.5" y="817.5" width="2" height="2" fill="#4a4a4a"/>
<rect x="625.5" y="820.5" width="2" height="2" fill="#4a4a4a"/>
<rect x="628.5" y="820.5" width="2" height="2" fill="#4a4a4a"/>
<rect x="622.5" y="823.5" width="2" height="2" fill="#4a4a4a"/>
<rect x="625.5" y="823.5" width="2" height="2" fill="#4a4a4a"/>
<rect x="628.5" y="823.5" width="2" height="2" fill="#4a4a4a"/>
<text x="320.5" y="599" text-anchor="middle" class="t">OS Process Memory</text>
<line x1="66" y1="613.5" x2="607.6" y2="613.5" stroke="rgba(200,200,200,0.22)" stroke-width="1"/>
<text x="61" y="617.5" text-anchor="end" class="a">3.7 GiB</text>
<line x1="66" y1="653.5" x2="607.6" y2="653.5" stroke="rgba(200,200,200,0.22)" stroke-width="1"/>
<text x="61" y="657.75" text-anchor="end" class="a">2.8 GiB</text>
<line x1="66" y1="693.5" x2="607.6" y2="693.5" stroke="rgba(200,200,200,0.22)" stroke-width="1"/>
<text x="61" y="698.0" text-anchor="end" class="a">1.9 GiB</text>
<line x1="66" y1="733.5" x2="607.6" y2="733.5" stroke="rgba(200,200,200,0.22)" stroke-width="1"/>
<text x="61" y="738.25" text-anchor="end" class="a">954 MiB</text>
<line x1="66" y1="774.5" x2="607.6" y2="774.5" stroke="rgba(200,200,200,0.22)" stroke-width="1"/>
<text x="61" y="778.5" text-anchor="end" class="a">0 B</text>
<line x1="161.5" y1="613.5" x2="161.5" y2="774" stroke="rgba(200,200,200,0.22)" stroke-width="1"/>
<text x="161.3" y="793" text-anchor="middle" class="a">03:03</text>
<line x1="270.5" y1="613.5" x2="270.5" y2="774" stroke="rgba(200,200,200,0.22)" stroke-width="1"/>
<text x="270.3" y="793" text-anchor="middle" class="a">03:04</text>
<line x1="378.5" y1="613.5" x2="378.5" y2="774" stroke="rgba(200,200,200,0.22)" stroke-width="1"/>
<text x="378.2" y="793" text-anchor="middle" class="a">03:05</text>
<line x1="487.5" y1="613.5" x2="487.5" y2="774" stroke="rgba(200,200,200,0.22)" stroke-width="1"/>
<text x="487.2" y="793" text-anchor="middle" class="a">03:06</text>
<line x1="595.5" y1="613.5" x2="595.5" y2="774" stroke="rgba(200,200,200,0.22)" stroke-width="1"/>
<text x="595.2" y="793" text-anchor="middle" class="a">03:07</text>
<svg x="66" y="610.5" width="541.6" height="166.5" overflow="hidden"><g transform="translate(-66,-610.5)">
<path d="M66.06,649.76 L354.42,649.76 L358.67,634.11 L379.87,634.11 L383.78,635.74 L409.88,635.74 L413.14,635.09 L464.68,635.09 L467.94,634.11 L518.5,634.11 L521.77,635.09 L542.97,635.09 L546.23,635.41 L571.67,635.41 L574.94,634.43 L609.84,634.43 L609.84,774 L66.06,774 Z" fill="#7EB26D" fill-opacity="0.1"/>
<path d="M66.06,759.04 L354.42,759.04 L358.67,746.65 L379.87,746.65 L383.78,745.67 L409.88,745.67 L413.14,745.01 L464.68,745.01 L467.94,744.04 L518.5,744.04 L521.77,744.69 L542.97,744.69 L546.23,746.32 L571.67,746.32 L574.94,745.01 L609.84,745.01 L609.84,774 L66.06,774 Z" fill="#EAB839" fill-opacity="0.1"/>
<path d="M66.06,649.76 L354.42,649.76 L358.67,634.11 L379.87,634.11 L383.78,635.74 L409.88,635.74 L413.14,635.09 L464.68,635.09 L467.94,634.11 L518.5,634.11 L521.77,635.09 L542.97,635.09 L546.23,635.41 L571.67,635.41 L574.94,634.43 L609.84,634.43" fill="none" stroke="#7EB26D" stroke-width="2" stroke-linejoin="round"/>
<path d="M66.06,759.04 L354.42,759.04 L358.67,746.65 L379.87,746.65 L383.78,745.67 L409.88,745.67 L413.14,745.01 L464.68,745.01 L467.94,744.04 L518.5,744.04 L521.77,744.69 L542.97,744.69 L546.23,746.32 L571.67,746.32 L574.94,745.01 L609.84,745.01" fill="none" stroke="#EAB839" stroke-width="2" stroke-linejoin="round"/>
</g></svg>
<rect x="43" y="810" width="12.5" height="3.6" fill="#7EB26D"/>
<text x="59.8" y="816" class="l" textLength="90.7" lengthAdjust="spacingAndGlyphs">Vertual Memory</text>
<rect x="159.8" y="810" width="12.5" height="3.6" fill="#EAB839"/>
<text x="176.6" y="816" class="l" textLength="98.8" lengthAdjust="spacingAndGlyphs">Resident Memory</text>
<rect x="644.5" y="578.5" width="625" height="249" fill="#1f1d1d" stroke="#292929" stroke-width="1"/>
<rect x="1265.5" y="817.5" width="2" height="2" fill="#4a4a4a"/>
<rect x="1262.5" y="820.5" width="2" height="2" fill="#4a4a4a"/>
<rect x="1265.5" y="820.5" width="2" height="2" fill="#4a4a4a"/>
<rect x="1259.5" y="823.5" width="2" height="2" fill="#4a4a4a"/>
<rect x="1262.5" y="823.5" width="2" height="2" fill="#4a4a4a"/>
<rect x="1265.5" y="823.5" width="2" height="2" fill="#4a4a4a"/>
<text x="957.0" y="599" text-anchor="middle" class="t" textLength="161.5" lengthAdjust="spacingAndGlyphs">File Descriptors &amp; Ports</text>
<line x1="691.4" y1="613.5" x2="1225.6" y2="613.5" stroke="rgba(200,200,200,0.22)" stroke-width="1"/>
<text x="686.4" y="617.5" text-anchor="end" class="a">25000</text>
<line x1="691.4" y1="645.5" x2="1225.6" y2="645.5" stroke="rgba(200,200,200,0.22)" stroke-width="1"/>
<text x="686.4" y="649.7" text-anchor="end" class="a">20000</text>
<line x1="691.4" y1="677.5" x2="1225.6" y2="677.5" stroke="rgba(200,200,200,0.22)" stroke-width="1"/>
<text x="686.4" y="681.9" text-anchor="end" class="a">15000</text>
<line x1="691.4" y1="709.5" x2="1225.6" y2="709.5" stroke="rgba(200,200,200,0.22)" stroke-width="1"/>
<text x="686.4" y="714.1" text-anchor="end" class="a">10000</text>
<line x1="691.4" y1="741.5" x2="1225.6" y2="741.5" stroke="rgba(200,200,200,0.22)" stroke-width="1"/>
<text x="686.4" y="746.3" text-anchor="end" class="a">5000</text>
<line x1="691.4" y1="774.5" x2="1225.6" y2="774.5" stroke="rgba(200,200,200,0.22)" stroke-width="1"/>
<text x="686.4" y="778.5" text-anchor="end" class="a">0</text>
<line x1="1225.6" y1="613.5" x2="1230.6" y2="613.5" stroke="rgba(200,200,200,0.22)" stroke-width="1"/>
<text x="1235.6" y="617.5" text-anchor="start" class="a">80 K</text>
<line x1="1225.6" y1="653.5" x2="1230.6" y2="653.5" stroke="rgba(200,200,200,0.22)" stroke-width="1"/>
<text x="1235.6" y="657.75" text-anchor="start" class="a">60 K</text>
<line x1="1225.6" y1="693.5" x2="1230.6" y2="693.5" stroke="rgba(200,200,200,0.22)" stroke-width="1"/>
<text x="1235.6" y="698.0" text-anchor="start" class="a">40 K</text>
<line x1="1225.6" y1="733.5" x2="1230.6" y2="733.5" stroke="rgba(200,200,200,0.22)" stroke-width="1"/>
<text x="1235.6" y="738.25" text-anchor="start" class="a">20 K</text>
<line x1="1225.6" y1="774.5" x2="1230.6" y2="774.5" stroke="rgba(200,200,200,0.22)" stroke-width="1"/>
<text x="1235.6" y="778.5" text-anchor="start" class="a">0</text>
<line x1="785.5" y1="613.5" x2="785.5" y2="774" stroke="rgba(200,200,200,0.22)" stroke-width="1"/>
<text x="785.5" y="793" text-anchor="middle" class="a">03:03</text>
<line x1="892.5" y1="613.5" x2="892.5" y2="774" stroke="rgba(200,200,200,0.22)" stroke-width="1"/>
<text x="892.6" y="793" text-anchor="middle" class="a">03:04</text>
<line x1="1000.5" y1="613.5" x2="1000.5" y2="774" stroke="rgba(200,200,200,0.22)" stroke-width="1"/>
<text x="1000" y="793" text-anchor="middle" class="a">03:05</text>
<line x1="1106.5" y1="613.5" x2="1106.5" y2="774" stroke="rgba(200,200,200,0.22)" stroke-width="1"/>
<text x="1106" y="793" text-anchor="middle" class="a">03:06</text>
<line x1="1213.5" y1="613.5" x2="1213.5" y2="774" stroke="rgba(200,200,200,0.22)" stroke-width="1"/>
<text x="1213" y="793" text-anchor="middle" class="a">03:07</text>
<svg x="691.4" y="610.5" width="534.1999999999999" height="166.5" overflow="hidden"><g transform="translate(-691.4,-610.5)">
<path d="M691.37,774.03 L975.62,774.03 L980.52,770.11 L1228.83,770.11 L1228.83,774 L691.37,774 Z" fill="#7EB26D" fill-opacity="0.1"/>
<path d="M691.37,644.98 L1228.83,644.98 L1228.83,774 L691.37,774 Z" fill="#EAB839" fill-opacity="0.1"/>
<path d="M691.37,773.71 L975.62,773.71 L980.52,773.05 L1228.83,773.05 L1228.83,774 L691.37,774 Z" fill="#EF843C" fill-opacity="0.1"/>
<path d="M691.37,641.71 L1228.83,641.71 L1228.83,774 L691.37,774 Z" fill="#6ED0E0" fill-opacity="0.1"/>
<path d="M691.37,774.03 L975.62,774.03 L980.52,770.11 L1228.83,770.11" fill="none" stroke="#7EB26D" stroke-width="2" stroke-linejoin="round"/>
<path d="M691.37,644.98 L1228.83,644.98" fill="none" stroke="#EAB839" stroke-width="2" stroke-linejoin="round"/>
<path d="M691.37,773.71 L975.62,773.71 L980.52,773.05 L1228.83,773.05" fill="none" stroke="#EF843C" stroke-width="2" stroke-linejoin="round"/>
<path d="M691.37,641.71 L1228.83,641.71" fill="none" stroke="#6ED0E0" stroke-width="2" stroke-linejoin="round"/>
</g></svg>
<rect x="679.1" y="810" width="12.5" height="3.6" fill="#7EB26D"/>
<text x="695.9" y="816" class="l" textLength="53.9" lengthAdjust="spacingAndGlyphs">Open FDs</text>
<rect x="760.1" y="810" width="12.5" height="3.6" fill="#EAB839"/>
<text x="776.9" y="816" class="l" textLength="48.1" lengthAdjust="spacingAndGlyphs">Max FDs</text>
<rect x="1115.9" y="810" width="12.5" height="3.6" fill="#EF843C"/>
<text x="1132.7" y="816" class="l" textLength="29.1" lengthAdjust="spacingAndGlyphs">Ports</text>
<rect x="1171.8" y="810" width="12.5" height="3.6" fill="#6ED0E0"/>
<text x="1188.6" y="816" class="l" textLength="56.5" lengthAdjust="spacingAndGlyphs">Max Ports</text>
<rect x="1281.5" y="578.5" width="624" height="249" fill="#1f1d1d" stroke="#292929" stroke-width="1"/>
<rect x="1901.5" y="817.5" width="2" height="2" fill="#4a4a4a"/>
<rect x="1898.5" y="820.5" width="2" height="2" fill="#4a4a4a"/>
<rect x="1901.5" y="820.5" width="2" height="2" fill="#4a4a4a"/>
<rect x="1895.5" y="823.5" width="2" height="2" fill="#4a4a4a"/>
<rect x="1898.5" y="823.5" width="2" height="2" fill="#4a4a4a"/>
<rect x="1901.5" y="823.5" width="2" height="2" fill="#4a4a4a"/>
<text x="1593.5" y="599" text-anchor="middle" class="t" textLength="151" lengthAdjust="spacingAndGlyphs">Native Threads &amp; CPU</text>
<line x1="1325" y1="613.5" x2="1871.4" y2="613.5" stroke="rgba(200,200,200,0.22)" stroke-width="1"/>
<text x="1320" y="617.5" text-anchor="end" class="a">400%</text>
<line x1="1325" y1="653.5" x2="1871.4" y2="653.5" stroke="rgba(200,200,200,0.22)" stroke-width="1"/>
<text x="1320" y="657.75" text-anchor="end" class="a">300%</text>
<line x1="1325" y1="693.5" x2="1871.4" y2="693.5" stroke="rgba(200,200,200,0.22)" stroke-width="1"/>
<text x="1320" y="698.0" text-anchor="end" class="a">200%</text>
<line x1="1325" y1="733.5" x2="1871.4" y2="733.5" stroke="rgba(200,200,200,0.22)" stroke-width="1"/>
<text x="1320" y="738.25" text-anchor="end" class="a">100%</text>
<line x1="1325" y1="774.5" x2="1871.4" y2="774.5" stroke="rgba(200,200,200,0.22)" stroke-width="1"/>
<text x="1320" y="778.5" text-anchor="end" class="a">0%</text>
<line x1="1871.4" y1="613.5" x2="1876.4" y2="613.5" stroke="rgba(200,200,200,0.22)" stroke-width="1"/>
<text x="1881.4" y="617.5" text-anchor="start" class="a">24</text>
<line x1="1871.4" y1="639.5" x2="1876.4" y2="639.5" stroke="rgba(200,200,200,0.22)" stroke-width="1"/>
<text x="1881.4" y="644.3333333333334" text-anchor="start" class="a">22</text>
<line x1="1871.4" y1="666.5" x2="1876.4" y2="666.5" stroke="rgba(200,200,200,0.22)" stroke-width="1"/>
<text x="1881.4" y="671.1666666666666" text-anchor="start" class="a">20</text>
<line x1="1871.4" y1="693.5" x2="1876.4" y2="693.5" stroke="rgba(200,200,200,0.22)" stroke-width="1"/>
<text x="1881.4" y="698.0" text-anchor="start" class="a">18</text>
<line x1="1871.4" y1="720.5" x2="1876.4" y2="720.5" stroke="rgba(200,200,200,0.22)" stroke-width="1"/>
<text x="1881.4" y="724.8333333333334" text-anchor="start" class="a">16</text>
<line x1="1871.4" y1="747.5" x2="1876.4" y2="747.5" stroke="rgba(200,200,200,0.22)" stroke-width="1"/>
<text x="1881.4" y="751.6666666666666" text-anchor="start" class="a">14</text>
<line x1="1871.4" y1="774.5" x2="1876.4" y2="774.5" stroke="rgba(200,200,200,0.22)" stroke-width="1"/>
<text x="1881.4" y="778.5" text-anchor="start" class="a">12</text>
<line x1="1421.5" y1="613.5" x2="1421.5" y2="774" stroke="rgba(200,200,200,0.22)" stroke-width="1"/>
<text x="1421.3" y="793" text-anchor="middle" class="a">03:03</text>
<line x1="1531.5" y1="613.5" x2="1531.5" y2="774" stroke="rgba(200,200,200,0.22)" stroke-width="1"/>
<text x="1531.2" y="793" text-anchor="middle" class="a">03:04</text>
<line x1="1640.5" y1="613.5" x2="1640.5" y2="774" stroke="rgba(200,200,200,0.22)" stroke-width="1"/>
<text x="1640.5" y="793" text-anchor="middle" class="a">03:05</text>
<line x1="1750.5" y1="613.5" x2="1750.5" y2="774" stroke="rgba(200,200,200,0.22)" stroke-width="1"/>
<text x="1750" y="793" text-anchor="middle" class="a">03:06</text>
<line x1="1859.5" y1="613.5" x2="1859.5" y2="774" stroke="rgba(200,200,200,0.22)" stroke-width="1"/>
<text x="1859" y="793" text-anchor="middle" class="a">03:07</text>
<svg x="1325" y="610.5" width="546.4000000000001" height="166.5" overflow="hidden"><g transform="translate(-1325,-610.5)">
<path d="M1325.04,773.72 L1616.99,773.72 L1620.25,697.39 L1642.43,697.39 L1645.69,654.33 L1672.44,654.33 L1675.7,653.35 L1696.91,653.35 L1700.17,663.14 L1726.26,663.14 L1729.53,662.16 L1750.73,662.16 L1754.64,658.57 L1780.74,658.57 L1784.98,646.5 L1806.18,646.5 L1809.44,654.66 L1835.54,654.66 L1838.15,655.96 L1860.01,655.96 L1863.27,652.05 L1874.68,652.05 L1874.68,774 L1325.04,774 Z" fill="#EAB839" fill-opacity="0.1"/>
<path d="M1325.04,693.47 L1874.68,693.47 L1874.68,774 L1325.04,774 Z" fill="#7EB26D" fill-opacity="0.1"/>
<path d="M1325.04,773.72 L1616.99,773.72 L1620.25,697.39 L1642.43,697.39 L1645.69,654.33 L1672.44,654.33 L1675.7,653.35 L1696.91,653.35 L1700.17,663.14 L1726.26,663.14 L1729.53,662.16 L1750.73,662.16 L1754.64,658.57 L1780.74,658.57 L1784.98,646.5 L1806.18,646.5 L1809.44,654.66 L1835.54,654.66 L1838.15,655.96 L1860.01,655.96 L1863.27,652.05 L1874.68,652.05" fill="none" stroke="#EAB839" stroke-width="2" stroke-linejoin="round"/>
<path d="M1325.04,693.47 L1874.68,693.47" fill="none" stroke="#7EB26D" stroke-width="2" stroke-linejoin="round"/>
</g></svg>
<rect x="1316" y="810" width="12.5" height="3.6" fill="#EAB839"/>
<text x="1332.8" y="816" class="l" textLength="24.5" lengthAdjust="spacingAndGlyphs">CPU</text>
<rect x="1817.7" y="810" width="12.5" height="3.6" fill="#7EB26D"/>
<text x="1834.5" y="816" class="l" textLength="46.7" lengthAdjust="spacingAndGlyphs">Threads</text>
<rect x="1440.5" y="56.5" width="465" height="249" fill="#1f1d1d" stroke="#292929" stroke-width="1"/>
<rect x="1901.5" y="295.5" width="2" height="2" fill="#4a4a4a"/>
<rect x="1898.5" y="298.5" width="2" height="2" fill="#4a4a4a"/>
<rect x="1901.5" y="298.5" width="2" height="2" fill="#4a4a4a"/>
<rect x="1895.5" y="301.5" width="2" height="2" fill="#4a4a4a"/>
<rect x="1898.5" y="301.5" width="2" height="2" fill="#4a4a4a"/>
<rect x="1901.5" y="301.5" width="2" height="2" fill="#4a4a4a"/>
<text x="1673.0" y="77" text-anchor="middle" class="t" textLength="50.5" lengthAdjust="spacingAndGlyphs">Uptime</text>
<text x="1517" y="207" style="font-size:36px;font-weight:bold" textLength="312" lengthAdjust="spacingAndGlyphs">1 hour, 56 minutes</text>
<rect x="14" y="838" width="85" height="30" rx="3" fill="#292929"/>
<rect x="26" y="847" width="3" height="10" fill="#d8d9da"/>
<rect x="22.5" y="850" width="10" height="3" fill="#d8d9da"/>
<text x="35" y="856" style="font-size:12px" textLength="56.5" lengthAdjust="spacingAndGlyphs">ADD ROW</text>
</svg>
</body></html>
